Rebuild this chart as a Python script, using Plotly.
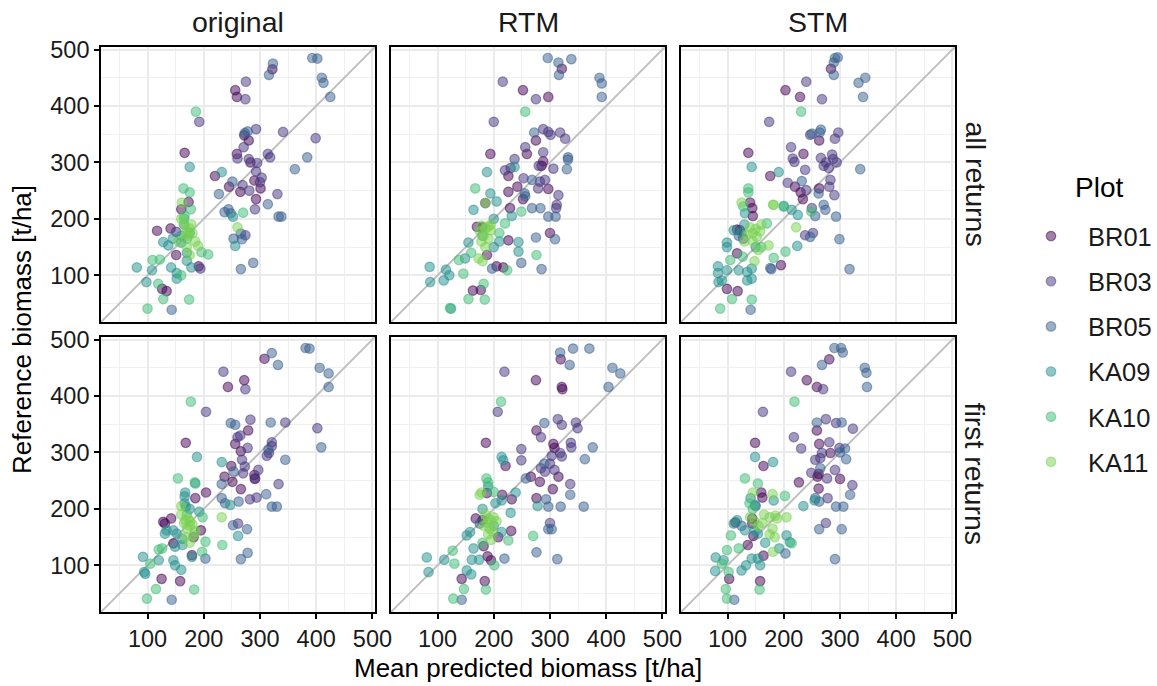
import plotly.graph_objects as go

# ---------------- data ----------------
PLOTS = ["BR01", "BR03", "BR05", "KA09", "KA10", "KA11"]
COLORS = ["#440154", "#46337E", "#365D8D", "#21908D", "#3DBC74", "#7AD151"]
METHODS = ["original", "RTM", "STM"]
RETURNS = ["all returns", "first returns"]
TICKS = [100, 200, 300, 400, 500]
MINOR_TICKS = [50, 150, 250, 350, 450]
AX_RANGE = [17.3, 504.5]

# each entry: (mean predicted biomass, reference biomass)
ORIGINAL_ALL = {
    "BR01": [(322,465),(256,428),(259,416),(272,348),(280,339),(259,315),(283,300),(166,317),(220,276),(301,254),(265,248),(245,257),(293,235),(173,230),(160,217),(117,179),(141,183),(151,136),(191,116),(126,76),(134,72),(290,268)],
    "BR03": [(275,443),(274,412),(192,372),(293,359),(341,354),(399,343),(271,327),(260,307),(280,306),(314,315),(318,309),(295,299),(293,284),(303,273),(269,260),(281,250),(331,244),(291,217),(274,171),(151,177),(194,112),(300,265)],
    "BR05": [(393,485),(402,484),(410,450),(413,441),(425,416),(323,475),(316,455),(278,355),(273,352),(384,309),(362,288),(251,266),(227,244),(314,226),(333,204),(338,204),(237,212),(244,217),(248,210),(266,174),(253,165),(268,164),(288,122),(266,111),(143,39)],
    "KA09": [(175,292),(232,283),(252,204),(256,152),(128,159),(137,153),(160,158),(170,126),(81,114),(108,109),(142,114),(152,104),(178,114),(98,88),(152,94),(160,170),(165,190),(175,175),(145,165),(170,140)],
    "KA10": [(186,390),(270,211),(164,254),(175,247),(177,217),(166,205),(208,137),(196,141),(109,127),(122,128),(160,100),(119,85),(128,58),(174,57),(100,41),(170,165),(165,200)],
    "KA11": [(260,185),(161,229),(175,183),(170,180),(180,175),(172,170),(185,160),(170,150),(175,136),(160,200),(165,190),(178,190),(168,172),(190,152),(155,160)],
}
RTM_ALL = {
    "BR01": [(321,466),(252,428),(297,416),(275,339),(259,315),(194,315),(288,302),(285,294),(226,276),(297,253),(226,248),(242,257),(252,235),(229,219),(300,175),(226,162),(185,228),(170,186),(188,136),(205,116),(217,114),(163,73),(177,74),(180,185)],
    "BR03": [(216,443),(275,412),(200,372),(288,359),(297,354),(301,349),(318,353),(327,342),(256,327),(288,318),(237,306),(306,289),(280,294),(220,286),(253,272),(282,266),(291,269),(279,254),(315,242),(312,225),(311,219),(230,290)],
    "BR05": [(296,485),(315,477),(338,483),(316,455),(388,450),(392,440),(392,416),(272,353),(332,309),(330,288),(268,269),(255,245),(256,240),(268,219),(283,219),(297,204),(310,204),(309,164),(275,167),(285,111),(249,122),(197,112),(332,305)],
    "KA09": [(237,292),(188,283),(194,245),(205,231),(232,205),(244,159),(244,142),(164,216),(155,158),(149,130),(86,115),(87,88),(115,110),(121,100),(111,91),(124,41),(200,200),(210,160),(180,170),(200,150)],
    "KA10": [(256,390),(167,254),(249,213),(276,136),(220,192),(138,127),(146,103),(224,109),(182,85),(155,58),(184,57),(122,42),(160,140),(210,175)],
    "KA11": [(185,228),(178,188),(185,183),(190,186),(195,180),(175,178),(182,170),(173,130),(180,125),(190,165),(185,150),(178,160),(195,190)],
}
STM_ALL = {
    "BR01": [(284,466),(203,428),(229,416),(263,339),(235,315),(137,317),(176,276),(220,257),(230,247),(234,235),(263,254),(195,118),(140,229),(144,219),(117,181),(122,180),(117,139),(99,76),(118,72),(145,205)],
    "BR03": [(240,443),(268,412),(174,372),(247,349),(291,342),(297,353),(213,327),(216,307),(219,301),(266,308),(271,294),(280,290),(286,314),(294,300),(288,306),(238,287),(207,264),(240,251),(283,269),(281,257),(290,242),(250,219),(238,171),(252,175),(128,165),(275,300)],
    "BR05": [(291,485),(296,486),(289,477),(289,455),(333,441),(345,450),(341,416),(250,351),(266,358),(264,353),(336,288),(232,267),(262,245),(271,225),(274,216),(256,205),(247,168),(293,204),(299,164),(317,111),(178,111),(176,113),(141,39),(120,170)],
    "KA09": [(143,292),(191,283),(225,207),(214,216),(224,152),(200,222),(131,210),(111,180),(99,158),(99,150),(83,116),(83,104),(99,109),(90,91),(84,88),(120,109),(135,106),(135,91),(143,94),(143,112),(130,190),(150,150),(125,175)],
    "KA10": [(231,390),(200,223),(249,213),(203,142),(182,131),(137,254),(137,247),(128,222),(170,192),(127,133),(105,127),(108,58),(143,57),(87,41),(160,150)],
    "KA11": [(222,185),(181,225),(173,153),(125,229),(182,225),(140,185),(150,182),(145,175),(135,172),(152,168),(158,178),(130,160),(145,160),(160,190),(155,145),(148,125)],
}
ORIGINAL_FIRST = {
    "BR01": [(308,466),(272,428),(243,416),(279,339),(168,317),(256,315),(266,302),(249,276),(237,257),(291,253),(251,248),(266,235),(204,229),(185,219),(128,177),(142,183),(131,174),(195,162),(182,150),(146,139),(179,118),(125,76),(158,72),(290,260)],
    "BR03": [(235,443),(274,412),(204,372),(283,358),(345,353),(402,343),(260,327),(278,308),(321,318),(321,311),(312,294),(316,299),(268,287),(297,269),(291,254),(273,275),(270,263),(333,244),(282,217),(294,220),(261,174),(265,330)],
    "BR05": [(381,485),(388,484),(406,450),(422,440),(422,416),(321,476),(332,455),(248,352),(256,349),(319,353),(409,309),(345,287),(253,266),(232,244),(311,226),(321,204),(330,204),(232,219),(238,210),(262,213),(252,171),(277,164),(278,122),(266,111),(143,39),(203,112),(315,305)],
    "KA09": [(188,292),(232,283),(247,207),(261,152),(167,229),(166,222),(185,245),(166,210),(168,204),(192,195),(131,156),(134,162),(146,162),(152,156),(162,147),(149,133),(162,136),(179,115),(120,109),(92,115),(94,88),(96,85),(146,109),(149,100),(160,92),(175,200)],
    "KA10": [(177,390),(233,136),(154,254),(184,247),(198,185),(203,142),(197,124),(120,128),(126,130),(105,103),(115,58),(183,57),(99,41),(170,190)],
    "KA11": [(232,185),(160,205),(167,180),(172,183),(176,178),(165,175),(175,170),(170,165),(180,172),(167,150),(182,153),(160,190),(175,140),(185,160)],
}
RTM_FIRST = {
    "BR01": [(319,465),(275,428),(321,416),(322,412),(276,339),(186,317),(306,315),(308,308),(221,276),(266,257),(282,248),(315,257),(305,235),(276,219),(232,217),(188,228),(168,183),(180,180),(208,150),(231,161),(182,134),(189,116),(195,109),(143,76),(184,72),(215,225)],
    "BR03": [(219,443),(207,372),(314,359),(321,349),(346,353),(349,343),(284,327),(337,317),(338,309),(318,299),(321,293),(303,294),(249,306),(249,286),(284,272),(291,266),(308,269),(336,244),(300,175),(300,280)],
    "BR05": [(318,477),(341,484),(370,484),(335,455),(411,450),(425,440),(404,416),(290,352),(376,309),(362,288),(257,254),(336,225),(360,204),(293,217),(297,204),(319,204),(297,164),(303,164),(276,123),(313,111),(219,112),(143,39),(175,174),(290,280)],
    "KA09": [(214,292),(217,286),(278,205),(239,229),(214,215),(230,193),(203,210),(158,159),(152,153),(214,159),(164,130),(174,110),(161,110),(81,114),(112,110),(84,88),(152,91),(160,84),(190,240),(200,170),(180,200)],
    "KA10": [(213,390),(270,152),(226,144),(187,254),(190,247),(127,126),(130,103),(201,100),(147,58),(186,57),(128,41),(180,140),(200,230)],
    "KA11": [(178,229),(175,225),(190,183),(195,180),(200,185),(188,175),(193,165),(198,160),(190,155),(185,190),(205,178),(195,145),(182,170)],
}
STM_FIRST = {
    "BR01": [(281,465),(241,428),(259,416),(259,339),(149,317),(263,315),(283,299),(164,276),(260,257),(262,236),(300,253),(227,247),(160,229),(162,220),(114,176),(144,183),(144,174),(146,152),(136,136),(164,117),(103,76),(158,72),(262,262)],
    "BR03": [(213,443),(270,412),(163,372),(275,359),(293,352),(323,342),(218,327),(231,307),(281,318),(268,299),(299,308),(256,287),(249,264),(291,269),(277,254),(322,242),(278,219),(275,175),(265,290)],
    "BR05": [(290,485),(302,485),(305,477),(268,455),(344,450),(347,441),(348,416),(259,353),(303,353),(309,307),(311,288),(265,272),(318,225),(293,204),(306,204),(256,219),(263,213),(263,164),(303,164),(291,111),(203,121),(112,39),(300,300),(125,170),(150,205)],
    "KA09": [(149,292),(181,283),(235,205),(141,219),(182,215),(149,207),(117,180),(111,174),(131,162),(148,162),(154,156),(205,153),(211,141),(167,140),(143,112),(154,112),(79,114),(93,109),(78,90),(125,91),(133,100),(158,100),(192,130),(255,215)],
    "KA10": [(219,390),(202,223),(131,254),(154,245),(139,210),(106,153),(120,130),(99,127),(90,103),(102,88),(97,58),(157,57),(99,41),(214,139),(145,200)],
    "KA11": [(145,229),(180,226),(140,185),(148,178),(162,175),(175,185),(185,188),(188,183),(205,185),(180,165),(175,155),(184,150),(181,124),(165,190),(155,170)],
}
PANELS = [[ORIGINAL_ALL, RTM_ALL, STM_ALL], [ORIGINAL_FIRST, RTM_FIRST, STM_FIRST]]

# ---------------- layout geometry ----------------
W, H = 1157, 686
COL_LEFT = [101, 391, 681]
ROW_TOP = [47, 337]
PW, PH = 274, 275
FONT = "Liberation Sans, Arial, sans-serif"


def rgba(hex_color, a):
    h = hex_color.lstrip("#")
    r, g, b = int(h[0:2], 16), int(h[2:4], 16), int(h[4:6], 16)
    return f"rgba({r},{g},{b},{a})"


fig = go.Figure()
layout = dict(
    width=W, height=H, margin=dict(l=0, r=0, t=0, b=0),
    plot_bgcolor="white", paper_bgcolor="white",
    font=dict(family=FONT, color="black"),
    showlegend=True,
)
annotations = []

for r in range(2):
    for c in range(3):
        k = r * 3 + c + 1
        xa = "xaxis" if k == 1 else f"xaxis{k}"
        ya = "yaxis" if k == 1 else f"yaxis{k}"
        xr = "x" if k == 1 else f"x{k}"
        yr = "y" if k == 1 else f"y{k}"
        x0 = COL_LEFT[c] / W
        x1 = (COL_LEFT[c] + PW) / W
        y1 = 1 - ROW_TOP[r] / H
        y0 = 1 - (ROW_TOP[r] + PH) / H
        common = dict(
            range=AX_RANGE, tickvals=TICKS, showgrid=True, gridcolor="#EBEBEB",
            gridwidth=1.8, zeroline=False, showline=True, mirror=True,
            linecolor="black", linewidth=1.6, automargin=False,
            minor=dict(tickvals=MINOR_TICKS, showgrid=True, gridcolor="#F0F0F0", gridwidth=0.9, ticks=""),
            tickfont=dict(size=23.5, color="#1a1a1a", family=FONT),
            ticklen=5, tickwidth=1.5, tickcolor="black",
        )
        layout[xa] = dict(common, domain=[x0, x1], anchor=yr,
                          showticklabels=(r == 1), ticks="outside" if r == 1 else "")
        layout[ya] = dict(common, domain=[y0, y1], anchor=xr,
                          showticklabels=(c == 0), ticks="outside" if c == 0 else "")
        # identity line y = x across the panel
        fig.add_trace(go.Scatter(
            x=AX_RANGE, y=AX_RANGE, mode="lines", xaxis=xr, yaxis=yr,
            line=dict(color="#BEBEBE", width=1.9), showlegend=False, hoverinfo="skip",
        ))
        data = PANELS[r][c]
        for p, col in zip(PLOTS, COLORS):
            pts = data[p]
            fig.add_trace(go.Scatter(
                x=[q[0] for q in pts], y=[q[1] for q in pts], mode="markers",
                name=p, legendgroup=p, showlegend=(k == 1),
                xaxis=xr, yaxis=yr,
                marker=dict(size=9.5, color=rgba(col, 0.5),
                            line=dict(color=rgba(col, 0.5), width=1.2)),
            ))

# strip labels
for c, m in enumerate(METHODS):
    annotations.append(dict(text=m, x=(COL_LEFT[c] + PW / 2) / W, y=1 - 22 / H,
                            xref="paper", yref="paper", showarrow=False,
                            xanchor="center", yanchor="middle",
                            font=dict(size=28.5, color="#1a1a1a")))
for r, lab in enumerate(RETURNS):
    annotations.append(dict(text=lab, x=975 / W, y=1 - (ROW_TOP[r] + PH / 2) / H,
                            xref="paper", yref="paper", showarrow=False, textangle=90,
                            xanchor="center", yanchor="middle",
                            font=dict(size=28.5, color="#1a1a1a")))
# axis titles
annotations.append(dict(text="Mean predicted biomass [t/ha]", x=528 / W, y=1 - 668 / H,
                        xref="paper", yref="paper", showarrow=False,
                        xanchor="center", yanchor="middle", font=dict(size=26)))
annotations.append(dict(text="Reference biomass [t/ha]", x=22 / W, y=1 - 330 / H,
                        xref="paper", yref="paper", showarrow=False, textangle=-90,
                        xanchor="center", yanchor="middle", font=dict(size=26)))
# legend title
annotations.append(dict(text="Plot", x=1073 / W, y=1 - 187 / H,
                        xref="paper", yref="paper", showarrow=False,
                        xanchor="left", yanchor="middle", font=dict(size=28)))

layout["annotations"] = annotations
layout["legend"] = dict(
    x=1014 / W, y=1 - 213 / H, xanchor="left", yanchor="top",
    font=dict(size=25.5, color="#1a1a1a"), traceorder="grouped", tracegroupgap=9,
    itemwidth=64, bgcolor="rgba(0,0,0,0)",
)
fig.update_layout(**layout)
fig.write_html("out.html", config={"displayModeBar": False},
               post_script="document.body.style.margin='0';")
